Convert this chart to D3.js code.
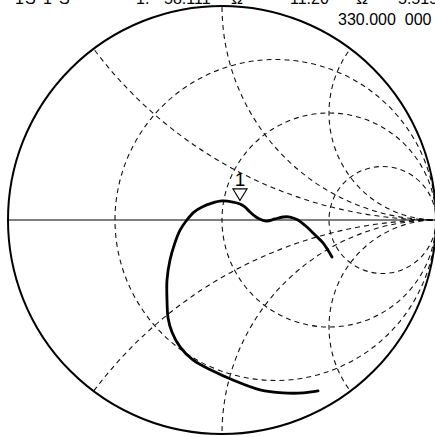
<!DOCTYPE html>
<html lang="en">

<head>
  <meta charset="UTF-8">
  <title>Smith Chart</title>
  <script src="https://d3js.org/d3.v7.min.js"></script>
  <style>
    body {
      margin: 0;
      background: #fff;
      font-family: "Liberation Sans", Arial, sans-serif;
    }

    .grid {
      fill: none;
      stroke: #111;
      stroke-width: 1.1;
      stroke-dasharray: 5, 4;
    }

    .readout {
      font-size: 16px;
      fill: #000;
      white-space: pre;
    }
  </style>
</head>

<body>
  <div id="chart"></div>

  <script>
    // grid values (normalised impedance)
    const resistances = [1 / 3, 1, 3];
    const reactances = [0.5, 1, 2, -0.5, -1, -2];

    // trace (re, im)
    const gammaRe = [0.514, 0.472, 0.435, 0.397, 0.355, 0.318, 0.285, 0.248, 0.210, 0.187,
      0.159, 0.131, 0.107, 0.084, 0.051, 0.000, -0.047, -0.093, -0.131, -0.164,
      -0.196, -0.220, -0.243, -0.257, -0.257, -0.252, -0.234, -0.196, -0.136, -0.042,
      0.051, 0.178, 0.285, 0.379, 0.449];
    const gammaIm = [-0.173, -0.107, -0.070, -0.033, 0.000, 0.014, 0.014, 0.005, -0.005, 0.000,
      0.014, 0.037, 0.061, 0.075, 0.084, 0.089, 0.079, 0.061, 0.037, 0.000,
      -0.047, -0.107, -0.187, -0.280, -0.374, -0.458, -0.523, -0.593, -0.654, -0.706,
      -0.748, -0.794, -0.808, -0.808, -0.799];
    const markerIndex = 13;
    const markerLabel = "1";

    // marker readout (top lines, mostly cut off by the frame)
    const readoutTop = ["1", "S", "1", "S", "1:", "58.111", "Ω", "11.20", "Ω", "5.515 nH"];
    const readoutTopX = [15, 25, 43, 59, 136, 164, 231, 290, 356, 398];
    const readoutFreq = "330.000  000 MHz";

    const width = 435, height = 437;
    const cx = 222, cy = 220, R = 214;

    const x = d3.scaleLinear().domain([-1, 1]).range([cx - R, cx + R]);
    const y = d3.scaleLinear().domain([-1, 1]).range([cy + R, cy - R]);
    const k = R; // px per unit of gamma

    const svg = d3.select("#chart").append("svg")
      .attr("width", width)
      .attr("height", height);

    svg.append("defs").append("clipPath")
      .attr("id", "unit")
      .append("circle")
      .attr("cx", x(0))
      .attr("cy", y(0))
      .attr("r", k);

    const grid = svg.append("g").attr("clip-path", "url(#unit)");

    // constant resistance circles
    grid.selectAll("circle.r")
      .data(resistances)
      .enter().append("circle")
      .attr("class", "grid r")
      .attr("cx", d => x(d / (1 + d)))
      .attr("cy", y(0))
      .attr("r", d => k / (1 + d));

    // constant reactance arcs
    grid.selectAll("circle.x")
      .data(reactances)
      .enter().append("circle")
      .attr("class", "grid x")
      .attr("cx", x(1))
      .attr("cy", d => y(1 / d))
      .attr("r", d => k / Math.abs(d));

    // real axis
    svg.append("line")
      .attr("x1", x(-1))
      .attr("x2", x(1))
      .attr("y1", y(0))
      .attr("y2", y(0))
      .attr("stroke", "#000")
      .attr("stroke-width", 1.2);

    // outer circle
    svg.append("circle")
      .attr("cx", x(0))
      .attr("cy", y(0))
      .attr("r", k)
      .attr("fill", "none")
      .attr("stroke", "#000")
      .attr("stroke-width", 2);

    // trace
    const pts = gammaRe.map((d, i) => [d, gammaIm[i]]);
    const line = d3.line()
      .x(d => x(d[0]))
      .y(d => y(d[1]))
      .curve(d3.curveCatmullRom);

    svg.append("path")
      .datum(pts)
      .attr("d", line)
      .attr("fill", "none")
      .attr("stroke", "#000")
      .attr("stroke-width", 2.8)
      .attr("stroke-linejoin", "round")
      .attr("stroke-linecap", "round");

    // marker 1
    const mx = x(pts[markerIndex][0]), my = y(pts[markerIndex][1]);
    svg.append("path")
      .attr("d", `M${mx},${my - 3.5}L${mx - 7},${my - 15}L${mx + 7},${my - 15}Z`)
      .attr("fill", "#fff")
      .attr("stroke", "#000")
      .attr("stroke-width", 1.2);

    svg.append("text")
      .attr("x", mx)
      .attr("y", my - 18)
      .attr("text-anchor", "middle")
      .attr("font-size", "19px")
      .text(markerLabel);

    // readout text
    svg.selectAll("text.top")
      .data(readoutTop)
      .enter().append("text")
      .attr("class", "readout top")
      .attr("x", (d, i) => readoutTopX[i])
      .attr("y", 4)
      .text(d => d);

    svg.append("text")
      .attr("class", "readout")
      .attr("x", 338)
      .attr("y", 25)
      .text(readoutFreq);
  </script>
</body>

</html>
